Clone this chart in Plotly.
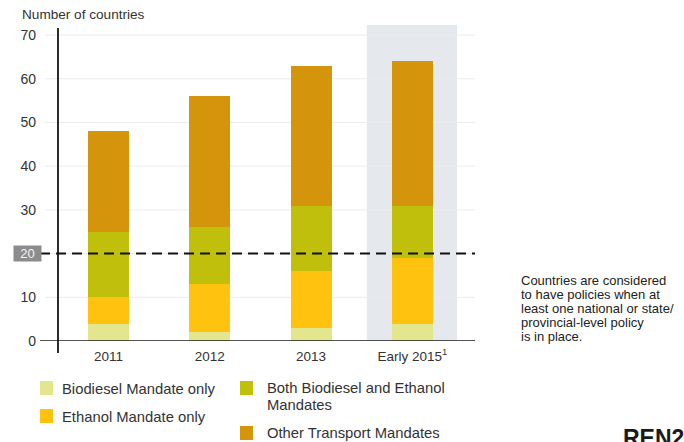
import plotly.graph_objects as go

# Countries with transport biofuel mandates, by mandate type
years = ["2011", "2012", "2013", "Early 2015<sup>1</sup>"]
biodiesel_only = [4, 2, 3, 4]
ethanol_only = [6, 11, 13, 15]
both_mandates = [15, 13, 15, 12]
other_transport = [23, 30, 32, 33]

series_names = [
    "Biodiesel Mandate only",
    "Ethanol Mandate only",
    "Both Biodiesel and Ethanol Mandates",
    "Other Transport Mandates",
]
# legend labels, one entry per printed line
legend_lines = [
    ["Biodiesel Mandate only"],
    ["Ethanol Mandate only"],
    ["Both Biodiesel and Ethanol", "Mandates"],
    ["Other Transport Mandates"],
]
series_colors = ["#e3e68c", "#ffc20f", "#c0c00c", "#d4950c"]
series_values = [biodiesel_only, ethanol_only, both_mandates, other_transport]

note_lines = [
    "Countries are considered",
    "to have policies when at",
    "least one national or state/",
    "provincial-level policy",
    "is in place.",
]

y_ticks = [0, 10, 30, 40, 50, 60, 70]
threshold = 20

W, H = 684, 442
M_L, M_R, M_T, M_B = 58, 209, 25, 101
PW, PH = W - M_L - M_R, H - M_T - M_B


def px(x):
    """pixel x -> plot-area paper fraction"""
    return (x - M_L) / PW


def py(y):
    """pixel y -> plot-area paper fraction"""
    return (H - M_B - y) / PH


FONT = "Liberation Sans, Arial, sans-serif"
TXT = "#333333"

fig = go.Figure()
for name, vals, col in zip(series_names, series_values, series_colors):
    fig.add_trace(go.Bar(
        x=years, y=vals, name=name, marker=dict(color=col, line=dict(width=0)),
        width=0.405, showlegend=False, hoverinfo="y+name",
    ))

shapes = []
# highlighted latest-year column
shapes.append(dict(type="rect", xref="x", yref="paper", x0=2.55, x1=3.44, y0=0, y1=1,
                   fillcolor="#e5e8ed", line=dict(width=0), layer="below"))
# horizontal gridlines
for v in [10, 20, 30, 40, 50, 60, 70]:
    shapes.append(dict(type="line", xref="paper", yref="y", x0=px(45), x1=1, y0=v, y1=v,
                       line=dict(color="#ececec", width=1), layer="below"))
# axis lines
shapes.append(dict(type="line", xref="paper", yref="paper", x0=0, x1=0, y0=py(353), y1=py(28),
                   line=dict(color="#2b2b2b", width=2), layer="above"))
shapes.append(dict(type="line", xref="paper", yref="y", x0=px(40), x1=1, y0=0, y1=0,
                   line=dict(color="#1a1a1a", width=1.5), layer="above"))
# threshold line
shapes.append(dict(type="line", xref="paper", yref="y", x0=px(40), x1=1, y0=threshold, y1=threshold,
                   line=dict(color="#111111", width=2, dash="10px,6px"), layer="above"))

annotations = []
annotations.append(dict(text="Number of countries", xref="paper", yref="paper",
                        x=px(20), y=py(14), xanchor="left", yanchor="middle", showarrow=False,
                        font=dict(family=FONT, size=13.6, color=TXT)))
annotations.append(dict(text=str(threshold), xref="paper", yref="y", x=px(27.5), y=threshold,
                        xanchor="center", yanchor="middle", showarrow=False,
                        bgcolor="#8c8c8c", width=25, height=13, borderpad=1,
                        font=dict(family=FONT, size=13, color="#f4f4f4")))
for i, line in enumerate(note_lines):
    annotations.append(dict(text=line, xref="paper", yref="paper",
                            x=px(519), y=py(280 + 14 * i), xanchor="left", yanchor="middle",
                            showarrow=False, font=dict(family=FONT, size=13, color="#222222")))
annotations.append(dict(text="<b>REN21</b>", xref="paper", yref="paper", x=px(621), y=py(423),
                        xanchor="left", yanchor="top", showarrow=False,
                        font=dict(family=FONT, size=23, color="#1a1a1a")))

# legend swatches and labels
legend_pos = [
    (40, 388, 60, 389),
    (40, 416, 60, 417),
    (240, 388, 265, 388),
    (240, 433, 265, 433),
]
for idx, (sx, sy, tx, ty) in enumerate(legend_pos):
    shapes.append(dict(type="rect", xref="paper", yref="paper",
                       x0=px(sx), x1=px(sx + 13), y0=py(sy - 7), y1=py(sy + 7),
                       fillcolor=series_colors[idx], line=dict(width=0)))
    for j, line in enumerate(legend_lines[idx]):
        annotations.append(dict(text=line, xref="paper", yref="paper",
                                x=px(tx), y=py(ty + 16.5 * j), xanchor="left", yanchor="middle",
                                showarrow=False, font=dict(family=FONT, size=14.8, color=TXT)))

fig.update_layout(
    width=W, height=H, margin=dict(l=M_L, r=M_R, t=M_T, b=M_B),
    paper_bgcolor="white", plot_bgcolor="white", barmode="stack",
    shapes=shapes, annotations=annotations, showlegend=False,
    xaxis=dict(type="category", categoryorder="array", categoryarray=years,
               range=[-0.4985, 3.618], showline=False, showgrid=False,
               zeroline=False, ticks="", tickfont=dict(family=FONT, size=13.5, color=TXT),
               ticklabelstandoff=5, fixedrange=True),
    yaxis=dict(range=[0, 72.3], tickmode="array", tickvals=y_ticks, showline=False,
               showgrid=False, zeroline=False, ticks="", ticklabelstandoff=21,
               tickfont=dict(family=FONT, size=14, color=TXT), fixedrange=True),
)

fig.write_html("out.html")
